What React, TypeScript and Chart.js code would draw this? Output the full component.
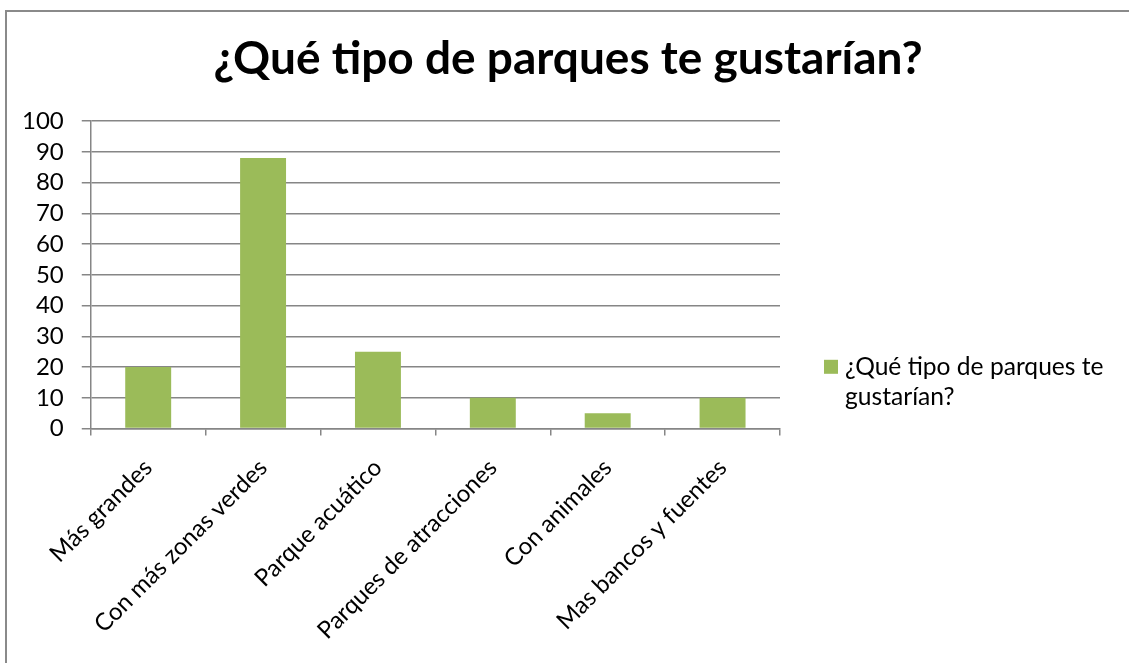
import React, { useEffect, useRef } from "react";
import { Chart, registerables } from "chart.js";

Chart.register(...registerables);

const TITLE = "¿Qué tipo de parques te gustarían?";
const SERIES_LABEL = "¿Qué tipo de parques te gustarían?";
const LEGEND_LINES = ["¿Qué tipo de parques te", "gustarían?"];
const CATEGORIES = [
  "Más grandes",
  "Con más zonas verdes",
  "Parque acuático",
  "Parques de atracciones",
  "Con animales",
  "Mas bancos y fuentes",
];
const VALUES = [20, 88, 25, 10, 5, 10];
const Y_MIN = 0;
const Y_MAX = 100;
const Y_STEP = 10;

const GREEN = "#9BBB59";
const GRID = "#868686";
const FONT = "Lato, 'Open Sans', sans-serif";
const TICK_SIZE = 24;
const LEGEND_SIZE = 24.6;
const LEGEND_COLUMN = 352;

const sideLegend = {
  id: "sideLegend",
  afterDraw(chart: any) {
    const ctx = chart.ctx;
    const area = chart.chartArea;
    const ds = chart.data.datasets[0];
    const boxX = area.right + 44;
    const line1Y = chart.height * 0.545;
    const lineH = 30;
    ctx.save();
    ctx.fillStyle = ds.backgroundColor;
    ctx.fillRect(boxX, line1Y - 7, 14, 14);
    ctx.fillStyle = "#000";
    ctx.font = `${LEGEND_SIZE}px ${FONT}`;
    ctx.textBaseline = "middle";
    ctx.textAlign = "left";
    LEGEND_LINES.forEach((t, i) => ctx.fillText(t, boxX + 21, line1Y + i * lineH));
    ctx.restore();
  },
};

export default function App() {
  const ref = useRef<HTMLCanvasElement | null>(null);
  useEffect(() => {
    if (!ref.current) return;
    const chart = new Chart(ref.current, {
      type: "bar",
      data: {
        labels: CATEGORIES,
        datasets: [
          {
            label: SERIES_LABEL,
            data: VALUES,
            backgroundColor: GREEN,
            borderWidth: 0,
            categoryPercentage: 1,
            barPercentage: 0.4,
            yAxisID: "y",
          },
        ],
      },
      plugins: [sideLegend],
      options: {
        responsive: false,
        animation: false,
        devicePixelRatio: 1,
        layout: { padding: { left: -3, right: -3, top: 0, bottom: 0 } },
        plugins: {
          title: {
            display: true,
            text: TITLE,
            color: "#000",
            font: { family: FONT, size: 46, weight: "bold" },
            padding: { top: 20, bottom: 34 },
          },
          legend: { display: false },
          tooltip: { enabled: false },
        },
        scales: {
          x: {
            offset: true,
            grid: {
              display: true,
              offset: true,
              drawOnChartArea: false,
              drawTicks: true,
              tickLength: 7,
              color: GRID,
              lineWidth: 1.5,
            },
            border: { display: true, color: GRID, width: 1.5 },
            ticks: {
              color: "#000",
              font: { family: FONT, size: TICK_SIZE },
              maxRotation: 45,
              minRotation: 45,
              padding: 18,
              autoSkip: false,
            },
          },
          y: {
            min: Y_MIN,
            max: Y_MAX,
            grid: {
              color: GRID,
              lineWidth: 1.5,
              drawTicks: true,
              tickLength: 9,
            },
            border: { display: true, color: GRID, width: 1.5 },
            ticks: {
              stepSize: Y_STEP,
              autoSkip: false,
              color: "#000",
              font: { family: FONT, size: TICK_SIZE, lineHeight: 1 },
              padding: 18,
            },
          },
          legendColumn: {
            type: "linear",
            axis: "y",
            position: "right",
            display: true,
            grid: { display: false, drawTicks: false },
            border: { display: false },
            ticks: { display: false },
            afterFit: (scale: any) => {
              scale.width = LEGEND_COLUMN;
            },
          } as any,
        },
      },
    });
    return () => chart.destroy();
  }, []);

  return (
    <div style={{ position: "fixed", left: 0, top: 0, width: 1129, height: 663, overflow: "hidden", background: "#fff" }}>
      <div
        style={{
          position: "absolute",
          left: 5,
          top: 10,
          width: 2000,
          height: 2000,
          borderLeft: "2px solid #8a8a8a",
          borderTop: "2px solid #8a8a8a",
        }}
      />
      <canvas ref={ref} width={1122} height={651} style={{ position: "absolute", left: 7, top: 12, width: 1122, height: 651 }} />
    </div>
  );
}
